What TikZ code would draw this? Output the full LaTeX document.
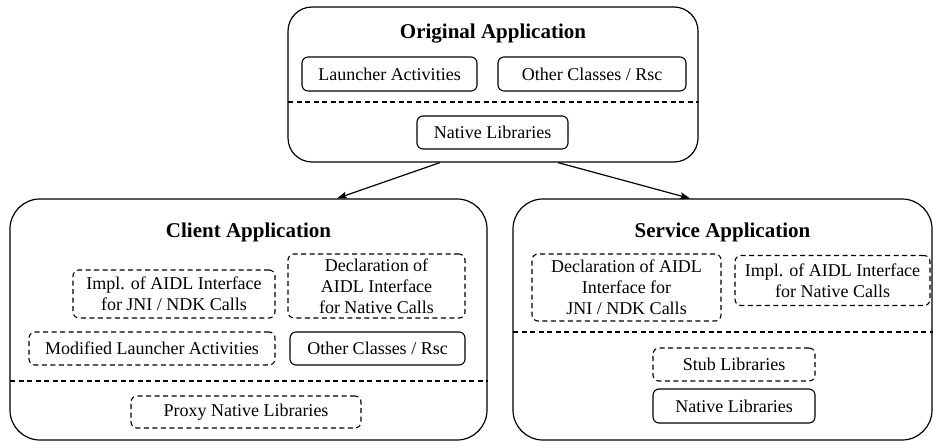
\documentclass[tikz,border=0pt]{standalone}
\usepackage{fontspec}
\setmainfont{Liberation Serif}
\usetikzlibrary{arrows.meta,calc}
\tikzset{
  appbox/.style={draw,line width=1.2pt,rounded corners=24pt,inner sep=0pt},
  inbox/.style={draw,line width=1.1pt,rounded corners=6pt,inner sep=0pt,align=center,
    font=\fontsize{18}{21}\selectfont},
  dinbox/.style={inbox,dash pattern=on 5pt off 3.5pt},
  sepline/.style={line width=1.1pt,dash pattern=on 5pt off 3.5pt},
  ttl/.style={font=\fontsize{21}{24}\selectfont\bfseries,inner sep=0pt},
  arr/.style={line width=1.2pt,-{Stealth[length=10pt,width=7pt,inset=2pt]}}
}
\begin{document}
\begin{tikzpicture}[x=1pt,y=-1pt]
\useasboundingbox (0,0) rectangle (933,441);
% Original
\node[appbox,minimum width=410pt,minimum height=155pt] (orig) at (493,84.5) {};
\node[ttl] (origt) at (493,34) {Original Application};
\node[inbox,minimum width=175pt,minimum height=34pt] (launch) at (389.5,74) {Launcher Activities};
\node[inbox,minimum width=188pt,minimum height=34pt] (oth1) at (592,74) {Other Classes / Rsc};
\coordinate (s1) at (288,102);
\draw[sepline] (s1) -- (s1 -| orig.east);
\node[inbox,minimum width=151pt,minimum height=33pt] (nat1) at (492.5,132.5) {Native Libraries};
% Client
\node[appbox,rounded corners=30pt,minimum width=477pt,minimum height=241pt] (client) at (248.5,319.5) {};
\node[ttl] (clientt) at (248.5,232) {Client Application};
\node[dinbox,minimum width=202pt,minimum height=48pt] (impl) at (174,294) {Impl. of AIDL Interface\\for JNI / NDK Calls};
\node[dinbox,minimum width=177pt,minimum height=64pt] (decl) at (376.5,286) {Declaration of\\AIDL Interface\\for Native Calls};
\node[dinbox,minimum width=246pt,minimum height=33pt] (mod) at (152,348.5) {Modified Launcher Activities};
\node[inbox,minimum width=175pt,minimum height=33pt] (oth2) at (377.5,348.5) {Other Classes / Rsc};
\coordinate (s2) at (10,381);
\draw[sepline] (s2) -- (s2 -| client.east);
\node[dinbox,minimum width=230pt,minimum height=32pt] (proxy) at (246,412) {Proxy Native Libraries};
% Service
\node[appbox,rounded corners=30pt,minimum width=419pt,minimum height=241pt] (serv) at (722.5,319.5) {};
\node[ttl] (servt) at (722.5,232) {Service Application};
\node[dinbox,minimum width=189pt,minimum height=67pt] (decl2) at (626.5,287.5) {Declaration of AIDL\\Interface for\\JNI / NDK Calls};
\node[dinbox,minimum width=195pt,minimum height=50pt] (impl2) at (832.5,280.5) {Impl. of AIDL Interface\\for Native Calls};
\coordinate (s3) at (513,332);
\draw[sepline] (s3) -- (s3 -| serv.east);
\node[dinbox,minimum width=162pt,minimum height=33pt] (stub) at (734,364.5) {Stub Libraries};
\node[inbox,minimum width=162pt,minimum height=34pt] (nat2) at (734,406) {Native Libraries};
% Arrows
\draw[arr] ($(orig.south)+(-53,0)$) -- ($(client.north)+(88.5,0)$);
\draw[arr] ($(orig.south)+(65,0)$) -- ($(serv.north)+(-32.5,0)$);
\end{tikzpicture}
\end{document}
